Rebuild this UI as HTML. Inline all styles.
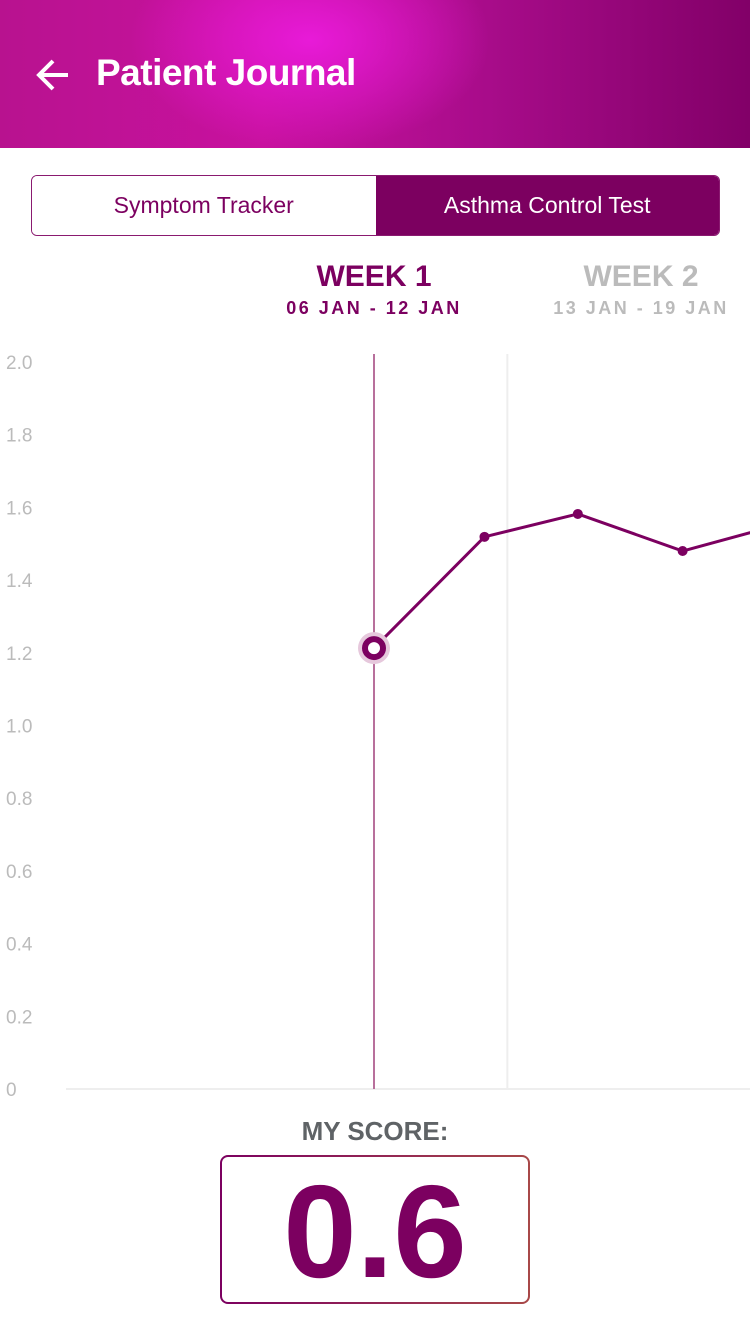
<!DOCTYPE html>
<html><head><meta charset="utf-8"><style>
body{margin:0;width:750px;height:1334px;background:#fff;font-family:"Liberation Sans",sans-serif;position:relative;overflow:hidden}
.hdr{position:absolute;left:0;top:0;width:750px;height:148px;background:radial-gradient(ellipse 180px 110px at 310px 40px,#e81ad8 0%,rgba(220,20,200,0) 100%),linear-gradient(90deg,#b8128f 0%,#c8119f 35%,#a80c8a 65%,#820068 100%)}
.title{position:absolute;left:96px;top:52px;color:#fff;font-size:37px;font-weight:bold;letter-spacing:-0.5px}
.tabs{position:absolute;left:31px;top:175px;width:687px;height:59px;border:1.5px solid #8a1a70;border-radius:6px;overflow:hidden;display:flex}
.tab{flex:1;display:flex;align-items:center;justify-content:center;font-size:23px}
.t1{color:#7c0060;background:#fff}
.t2{color:#fff;background:#7c0060}
.wk{position:absolute;text-align:center;width:240px}
.wk .a{font-size:30px;font-weight:bold}
.wk .b{font-size:18px;letter-spacing:2.5px;font-weight:bold;margin-top:4px}
.score-l{position:absolute;left:0;width:750px;top:1116px;text-align:center;color:#5f6366;font-size:26px;font-weight:bold}
.score{position:absolute;left:220px;top:1155px;width:306px;height:145px;border:2.5px solid transparent;border-radius:8px;background:linear-gradient(#fff,#fff) padding-box,linear-gradient(90deg,#7c0060,#a84848) border-box;text-align:center;color:#7c0060;font-size:132px;font-weight:bold;line-height:150px}
</style></head><body>
<div class="hdr">
<svg width="40" height="40" style="position:absolute;left:34px;top:56px"><path d="M34 19H6M19 5L5 19l14 14" stroke="#fff" stroke-width="4" fill="none"/></svg>
<div class="title">Patient Journal</div>
</div>
<div class="tabs">
<div class="tab t1">Symptom Tracker</div>
<div class="tab t2">Asthma Control Test</div>
</div>
<div class="wk" style="left:254px;top:260px;color:#7c0060"><div class="a">WEEK 1</div><div class="b">06 JAN - 12 JAN</div></div>
<div class="wk" style="left:521px;top:260px;color:#bbb"><div class="a">WEEK 2</div><div class="b">13 JAN - 19 JAN</div></div>
<svg id="chart" width="750" height="760" style="position:absolute;left:0;top:340px"></svg>
<div class="score-l">MY SCORE:</div>
<div class="score">0.6</div>
<script>
const yTicks=[0,0.2,0.4,0.6,0.8,1.0,1.2,1.4,1.6,1.8,2.0];
const tickLabels=["0","0.2","0.4","0.6","0.8","1.0","1.2","1.4","1.6","1.8","2.0"];
const dayOffsets=[0,2.9,5.35,8.1,10.2];
const scores=[1.213,1.519,1.582,1.48,1.54];
const weekBoundaries=[3.5];
const NS="http://www.w3.org/2000/svg";
const svg=document.getElementById('chart');
const OY=340;
function y(v){return 1089-OY-v*363.5;}
function x(d){return 374+d*38.1;}
function mk(t,a){const e=document.createElementNS(NS,t);for(const k in a)e.setAttribute(k,a[k]);svg.appendChild(e);return e;}
yTicks.forEach((v,i)=>{const t=mk('text',{x:6,y:y(v)+7,fill:'#bbb','font-size':19,'font-family':'Liberation Sans'});


t.textContent=tickLabels[i];});
const base=mk('line',{x1:66,x2:750,y1:y(0),y2:y(0),stroke:'#eee','stroke-width':2});


weekBoundaries.forEach(d=>{const l=mk('line',{x1:x(d),x2:x(d),y1:y(2.0)-8,y2:y(0),stroke:'#eee','stroke-width':2});

});
const cur=mk('line',{x1:x(0),x2:x(0),y1:y(2.0)-8,y2:y(0),stroke:'#b8709c','stroke-width':2});


const pl=mk('polyline',{points:dayOffsets.map((d,i)=>x(d)+','+y(scores[i])).join(' '),fill:'none',stroke:'#7c0060','stroke-width':3});


dayOffsets.forEach((d,i)=>{if(i==0){
const h=mk('circle',{cx:x(d),cy:y(scores[i]),r:16,fill:'#e6c8dc'});


const c=mk('circle',{cx:x(d),cy:y(scores[i]),r:9,fill:'#fff',stroke:'#7c0060','stroke-width':6});


}else{const c=mk('circle',{cx:x(d),cy:y(scores[i]),r:5,fill:'#7c0060'});

}});
</script>
</body></html>
